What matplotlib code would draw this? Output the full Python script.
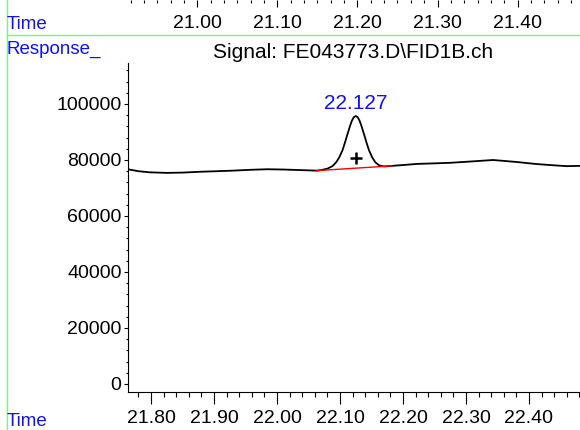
import matplotlib
matplotlib.use('Agg')
import matplotlib.pyplot as plt
from matplotlib.lines import Line2D
from matplotlib.ticker import MultipleLocator, FormatStrFormatter

plt.rcParams['font.family'] = ['Liberation Sans', 'DejaVu Sans']

# signal trace (time in min, response)
signal_time = [21.763, 21.780, 21.798, 21.825, 21.850, 21.878, 21.905, 21.930,
               21.958, 21.984, 22.010, 22.037, 22.063, 22.070, 22.080, 22.088,
               22.094, 22.099, 22.104, 22.108, 22.112, 22.116, 22.119, 22.122,
               22.125, 22.128, 22.131, 22.134, 22.138, 22.142, 22.146, 22.151,
               22.156, 22.162, 22.170, 22.182, 22.200, 22.222, 22.250, 22.275,
               22.310, 22.343, 22.380, 22.410, 22.433, 22.460, 22.481]
signal_resp = [76700, 76000, 75600, 75400, 75500, 75800, 76000, 76200,
               76500, 76700, 76600, 76400, 76200, 76400, 76900, 77800,
               79200, 81000, 83500, 86300, 89300, 92200, 94100, 95300,
               95700, 95300, 94100, 92200, 89300, 86300, 83500, 81000,
               79200, 78100, 77700, 77900, 78200, 78600, 78800, 79000,
               79500, 80000, 79300, 78600, 78200, 77800, 77900]

# integration baseline of the peak
base_time = [22.063, 22.182]
base_resp = [76200, 77900]

peak_rt = 22.127
peak_time = 22.125
peak_mark = 80600
peak_label_y = 98200

title = 'Signal: FE043773.D\\FID1B.ch'

blue = '#1010ff'
green = '#84f084'

fig = plt.figure(figsize=(5.8, 4.3), dpi=100)
W, H = 580.0, 430.0
left = 127.7 / W
ax = fig.add_axes([left, 38.3 / H, 1 - left, (391.7 - 62.7) / H])

ax.plot(signal_time, signal_resp, color='black', lw=1.3)
ax.plot(base_time, base_resp, color='red', lw=1.0)
ax.plot([peak_time], [peak_mark], marker='+', color='black', ms=9, mew=1.8)
ax.text(peak_time, peak_label_y, f'{peak_rt:.3f}', color=blue, fontsize=15,
        ha='center', va='baseline')

ax.set_xlim(21.763, 22.481)
ax.set_ylim(-2750, 114750)
for s in ['top', 'right']:
    ax.spines[s].set_visible(False)
for s in ['left', 'bottom']:
    ax.spines[s].set_linewidth(0.8)

ax.xaxis.set_major_locator(MultipleLocator(0.1))
ax.xaxis.set_minor_locator(MultipleLocator(0.02))
ax.xaxis.set_major_formatter(FormatStrFormatter('%.2f'))
ax.yaxis.set_major_locator(MultipleLocator(20000))
ax.yaxis.set_minor_locator(MultipleLocator(4000))
ax.tick_params(axis='x', which='major', length=8.4, width=0.8, pad=4.5, labelsize=14)
ax.tick_params(axis='x', which='minor', length=3.6, width=0.8)
ax.tick_params(axis='y', which='major', length=2.9, width=0.8, pad=1.5, labelsize=14)
ax.tick_params(axis='y', which='minor', length=1.4, width=0.8)

# remnant of the panel above: only its time axis is visible
ax_top = fig.add_axes([left, 1.0, 1 - left, 0.05])
ax_top.patch.set_visible(False)
for s in ax_top.spines.values():
    s.set_visible(False)
ax_top.set_xlim(20.913, 21.478)
ax_top.set_yticks([])
ax_top.xaxis.set_major_locator(MultipleLocator(0.1))
ax_top.xaxis.set_minor_locator(MultipleLocator(0.1 / 6))
ax_top.xaxis.set_major_formatter(FormatStrFormatter('%.2f'))
ax_top.tick_params(axis='x', which='major', length=4.8, width=0.8, pad=6, labelsize=14)
ax_top.tick_params(axis='x', which='minor', length=2.4, width=0.8)

# frame lines
fig.add_artist(Line2D([6.7 / W] * 2, [0, 1], transform=fig.transFigure, color=green, lw=1.0))
fig.add_artist(Line2D([6.7 / W, 1], [1 - 34.5 / H] * 2, transform=fig.transFigure, color=green, lw=1.0))

fig.text(6.5 / W, 1 - 29.3 / H, 'Time', color=blue, fontsize=13.5, ha='left', va='baseline')
fig.text(6.5 / W, 1 - 54 / H, 'Response_', color=blue, fontsize=13.5, ha='left', va='baseline')
fig.text(6.5 / W, 1 - 425.5 / H, 'Time', color=blue, fontsize=13.5, ha='left', va='baseline')
fig.text(353 / W, 1 - 57.5 / H, title, fontsize=15, ha='center', va='baseline')

fig.savefig('out.png', dpi=100)
